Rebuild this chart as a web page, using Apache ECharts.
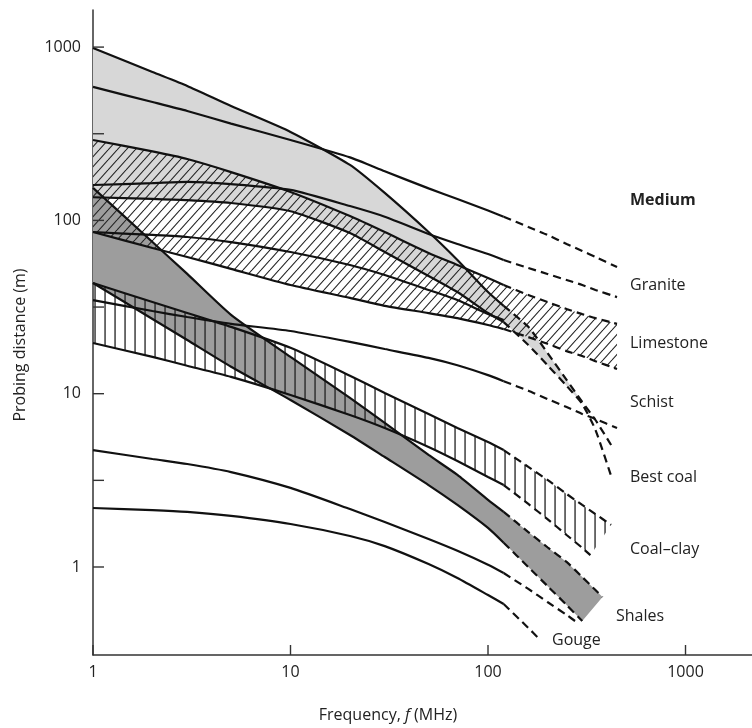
<!DOCTYPE html>
<html><head><meta charset="utf-8">
<script src="https://cdn.jsdelivr.net/npm/echarts@6/dist/echarts.min.js"></script>
<style>html,body{margin:0;padding:0;background:#fff}#c{width:752px;height:728px}</style>
</head><body><div id="c"></div>
<script>
// ---- data (frequency in MHz, probing distance in m) ----
const freqMain = [1, 2, 3, 5, 10, 20, 30, 50, 70, 100, 120];

const schistUpper = [988, 718, 597, 457, 324, 209, 144, 85.7, 59.1, 38.6, 32.1];
const schistUpperExtF = [120, 160, 200, 250, 300, 350, 420];
const schistUpperExt = [32.1, 24.3, 17.2, 12.0, 8.96, 7.05, 5.06];
const schistLower = [136, 133, 131, 126, 113, 84.6, 65.7, 47.8, 38.6, 29.2, 25.9];
const schistLowerExtF = [120, 160, 200, 250, 300, 350, 420];
const schistLowerExt = [25.9, 19.1, 14.6, 11.1, 8.72, 6.18, 3.35];

const graniteUpper = [589, 482, 428, 362, 291, 231, 192, 153, 133, 114, 105];
const graniteUpperExtF = [120, 160, 200, 250, 300, 350, 450];
const graniteUpperExt = [105, 91.6, 82.4, 73.1, 66.6, 61.5, 53.8];
const graniteLower = [160, 164, 167, 162, 150, 121, 105, 83.5, 73.1, 64.0, 59.1];
const graniteLowerExtF = [120, 160, 200, 250, 300, 350, 450];
const graniteLowerExt = [59.1, 53.1, 49.1, 45.3, 42.4, 39.7, 36.1];

const limestoneUpper = [291, 250, 226, 190, 146, 106, 85.7, 64.9, 55.3, 46.5, 42.4];
const limestoneUpperExtF = [120, 160, 200, 250, 300, 350, 450];
const limestoneUpperExt = [42.4, 37.1, 33.8, 30.8, 28.8, 27.3, 25.3];
const limestoneLower = [85.7, 69.3, 61.5, 52.5, 42.4, 35.7, 32.1, 29.2, 27.3, 24.9, 23.6];
const limestoneLowerExtF = [120, 160, 200, 250, 300, 350, 450];
const limestoneLowerExt = [23.6, 21.2, 19.4, 17.6, 16.5, 15.4, 13.9];
const limestoneMid = [85.7, 82.4, 80.2, 75.0, 65.7, 55.3, 48.4, 39.7, 34.7, 28.8, 26.6];

const bestCoal = [34.7, 30.0, 27.7, 25.3, 23.0, 19.9, 18.1, 16.1, 14.6, 12.8, 11.8];
const bestCoalExtF = [120, 160, 200, 250, 300, 350, 450];
const bestCoalExt = [11.8, 10.4, 9.32, 8.38, 7.64, 7.14, 6.34];

const coalClayUpper = [43.5, 33.8, 29.2, 24.3, 18.4, 12.7, 10.1, 7.64, 6.34, 5.26, 4.73];
const coalClayUpperExtF = [120, 160, 200, 250, 300, 350, 420];
const coalClayUpperExt = [4.73, 3.78, 3.18, 2.64, 2.28, 2.02, 1.75];
const coalClayLower = [19.6, 16.3, 14.5, 12.5, 9.83, 7.54, 6.34, 4.93, 4.09, 3.31, 2.97];
const coalClayLowerExtF = [120, 160, 200, 250, 300, 330];
const coalClayLowerExt = [2.97, 2.31, 1.89, 1.53, 1.29, 1.17];

const shalesUpper = [154, 75.0, 49.1, 28.5, 16.3, 9.45, 6.78, 4.43, 3.40, 2.44, 2.08];
const shalesUpperExtF = [120, 160, 200, 250, 300, 350, 380];
const shalesUpperExt = [2.08, 1.59, 1.30, 1.07, 0.875, 0.736, 0.671];
const shalesLower = [43.5, 27.0, 20.4, 14.3, 9.20, 5.78, 4.31, 2.97, 2.28, 1.68, 1.38];
const shalesLowerExtF = [120, 160, 200, 250, 300];
const shalesLowerExt = [1.38, 1.0, 0.777, 0.604, 0.488];

const gougeUpper = [4.73, 4.20, 3.93, 3.53, 2.86, 2.16, 1.82, 1.45, 1.24, 1.03, 0.923];
const gougeUpperExtF = [120, 160, 200, 250, 280];
const gougeUpperExt = [0.923, 0.747, 0.628, 0.529, 0.482];
const gougeLower = [2.19, 2.13, 2.08, 1.97, 1.77, 1.51, 1.32, 1.04, 0.864, 0.689, 0.612];
const gougeLowerExtF = [120, 160, 180];
const gougeLowerExt = [0.612, 0.445, 0.389];

const xTicks = [1, 10, 100, 1000];
const yTicks = [1, 3.162, 10, 31.62, 100, 316.2, 1000];
const mediumLabels = ['Granite', 'Limestone', 'Schist', 'Best coal', 'Coal\u2013clay', 'Shales', 'Gouge'];

// ---- helpers ----
const zip = (f, v) => f.map((x, i) => [x, v[i]]);
function upto(f, v, fmax) { return zip(f, v).filter(p => p[0] <= fmax); }
function band(uMain, uExtF, uExt, lMain, lExtF, lExt, fmaxU, fmaxL) {
  const top = zip(freqMain, uMain).concat(upto(uExtF, uExt, fmaxU).slice(1));
  const bot = zip(freqMain, lMain).concat(upto(lExtF, lExt, fmaxL).slice(1));
  return top.concat(bot.reverse());
}
function makeHatch(kind) {
  const c = document.createElement('canvas');
  const ctx = c.getContext('2d');
  if (kind === 'diag') {
    c.width = 9; c.height = 10;
    ctx.strokeStyle = '#222';
    ctx.lineWidth = 1.1;
    for (const off of [-9, 0, 9]) {
      ctx.beginPath(); ctx.moveTo(off, 10); ctx.lineTo(off + 9, 0); ctx.stroke();
    }
  } else {
    c.width = 10; c.height = 10;
    ctx.fillStyle = '#222';
    ctx.fillRect(4.4, 0, 1.3, 10);
  }
  return { type: 'pattern', image: c, repeat: 'repeat' };
}
function polySeries(points, fill, z) {
  return {
    type: 'custom', z: z, silent: true, clip: true,
    data: points,
    renderItem: function (params, api) {
      if (params.dataIndex !== 0) return;
      const pts = points.map(p => api.coord(p));
      return { type: 'polygon', shape: { points: pts }, style: { fill: fill, stroke: null } };
    }
  };
}
function lineSeries(f, v, dashed) {
  return {
    type: 'line', data: zip(f, v), showSymbol: false, smooth: 0.2, z: 5, silent: true,
    lineStyle: { color: '#111', width: 2.2, type: dashed ? [8, 5] : 'solid' }
  };
}

const series = [];
series.push(polySeries(band(schistUpper, schistUpperExtF, schistUpperExt, schistLower, schistLowerExtF, schistLowerExt, 300, 300), '#d7d7d7', 1));
series.push(polySeries(band(shalesUpper, shalesUpperExtF, shalesUpperExt, shalesLower, shalesLowerExtF, shalesLowerExt, 1e9, 1e9), '#9d9d9d', 2));
series.push(polySeries(band(limestoneUpper, limestoneUpperExtF, limestoneUpperExt, limestoneLower, limestoneLowerExtF, limestoneLowerExt, 1e9, 1e9), makeHatch('diag'), 3));
series.push(polySeries(band(coalClayUpper, coalClayUpperExtF, coalClayUpperExt, coalClayLower, coalClayLowerExtF, coalClayLowerExt, 1e9, 1e9), makeHatch('vert'), 3));

const curves = [
  [schistUpper, schistUpperExtF, schistUpperExt],
  [schistLower, schistLowerExtF, schistLowerExt],
  [graniteUpper, graniteUpperExtF, graniteUpperExt],
  [graniteLower, graniteLowerExtF, graniteLowerExt],
  [limestoneUpper, limestoneUpperExtF, limestoneUpperExt],
  [limestoneLower, limestoneLowerExtF, limestoneLowerExt],
  [bestCoal, bestCoalExtF, bestCoalExt],
  [coalClayUpper, coalClayUpperExtF, coalClayUpperExt],
  [coalClayLower, coalClayLowerExtF, coalClayLowerExt],
  [shalesUpper, shalesUpperExtF, shalesUpperExt],
  [shalesLower, shalesLowerExtF, shalesLowerExt],
  [gougeUpper, gougeUpperExtF, gougeUpperExt],
  [gougeLower, gougeLowerExtF, gougeLowerExt]
];
curves.forEach(c => {
  series.push(lineSeries(freqMain, c[0], false));
  series.push(lineSeries(c[1], c[2], true));
});
series.push(lineSeries(freqMain, limestoneMid, false));

// axis ticks (inside)
series.push({
  type: 'custom', z: 6, silent: true, clip: false,
  data: yTicks.map(v => [xTicks[0], v]),
  renderItem: function (params, api) {
    const p = api.coord([api.value(0), api.value(1)]);
    return { type: 'line', shape: { x1: p[0], y1: p[1], x2: p[0] + 11, y2: p[1] }, style: { stroke: '#333', lineWidth: 1.4 } };
  }
});
series.push({
  type: 'custom', z: 6, silent: true, clip: false,
  data: xTicks.map(v => [v, 0.3106]),
  renderItem: function (params, api) {
    const p = api.coord([api.value(0), api.value(1)]);
    return { type: 'line', shape: { x1: p[0], y1: p[1], x2: p[0], y2: p[1] - 10 }, style: { stroke: '#333', lineWidth: 1.4 } };
  }
});

const FONT = '"Open Sans", "Noto Sans", sans-serif';
const powLabel = v => { const l = Math.log10(v); return Math.abs(l - Math.round(l)) < 1e-6 ? String(Math.round(v)) : ''; };

const labelY = [285, 343, 402, 477, 549, 616, 640];
const labelX = [630, 630, 630, 630, 630, 616, 552];
const graphics = [
  { type: 'text', x: 630, y: 200, style: { text: 'Medium', font: 'bold 16px ' + FONT, fill: '#222', verticalAlign: 'middle' } },
  { type: 'text', x: 388, y: 715, style: { text: 'Frequency, {i|f} (MHz)', font: '16px ' + FONT, fill: '#222', align: 'center', verticalAlign: 'middle', rich: { i: { font: 'italic 16px ' + FONT, fill: '#222' } } } },
  { type: 'text', x: 20, y: 345, rotation: Math.PI / 2, style: { text: 'Probing distance (m)', font: '16px ' + FONT, fill: '#222', align: 'center', verticalAlign: 'middle' } }
];
mediumLabels.forEach((t, i) => graphics.push({ type: 'text', x: labelX[i], y: labelY[i], style: { text: t, font: '16px ' + FONT, fill: '#222', verticalAlign: 'middle' } }));

const chart = echarts.init(document.getElementById('c'), null, { renderer: 'canvas' });
chart.setOption({
  animation: false,
  backgroundColor: '#fff',
  grid: { left: 93, top: 10, width: 659, height: 645, containLabel: false },
  xAxis: {
    type: 'log', logBase: 10, min: 1, max: 2171,
    axisLine: { lineStyle: { color: '#333', width: 1.5 } },
    axisTick: { show: false }, splitLine: { show: false }, minorTick: { show: false },
    axisLabel: { formatter: powLabel, color: '#222', fontSize: 16, fontFamily: FONT, margin: 9, showMaxLabel: false }
  },
  yAxis: {
    type: 'log', logBase: 10, min: 0.3106, max: 1637,
    axisLine: { lineStyle: { color: '#333', width: 1.5 } },
    axisTick: { show: false }, splitLine: { show: false }, minorTick: { show: false },
    axisLabel: { formatter: powLabel, color: '#222', fontSize: 16, fontFamily: FONT, margin: 12 }
  },
  graphic: graphics,
  series: series
});
</script></body></html>
